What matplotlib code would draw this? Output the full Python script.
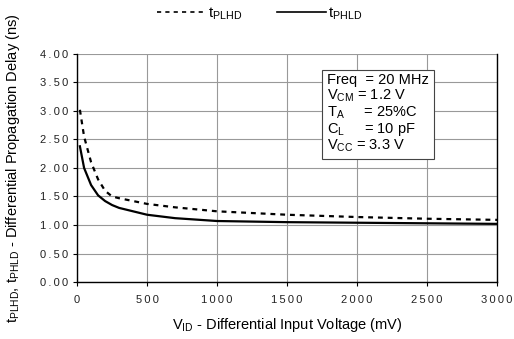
import matplotlib.pyplot as plt
from matplotlib.lines import Line2D

plt.rcParams['font.family'] = ['Liberation Sans', 'DejaVu Sans']
plt.rcParams['mathtext.fontset'] = 'custom'
plt.rcParams['mathtext.rm'] = 'Liberation Sans'

# propagation delay vs differential input voltage
vid = [20, 50, 100, 150, 200, 250, 300, 400, 500, 700, 1000, 1500, 2000, 2500, 3000]
tplhd = [3.02, 2.55, 2.10, 1.80, 1.60, 1.50, 1.47, 1.42, 1.37, 1.31, 1.24, 1.18, 1.14, 1.11, 1.09]
tphld = [2.38, 2.00, 1.70, 1.52, 1.42, 1.35, 1.30, 1.24, 1.18, 1.12, 1.07, 1.05, 1.04, 1.03, 1.02]

xticks = [0, 500, 1000, 1500, 2000, 2500, 3000]
yticks = [0.0, 0.5, 1.0, 1.5, 2.0, 2.5, 3.0, 3.5, 4.0]


def spaced(s):
    # wide letter spacing for the tick numbers
    return '\u2009'.join(s)


fig = plt.figure(figsize=(5.14, 3.39), dpi=100)
ax = fig.add_axes([0.150, 0.168, 0.817, 0.673])

ax.plot(vid, tplhd, color='black', lw=1.6, ls=(0, (2.2, 2.2)))
ax.plot(vid, tphld, color='black', lw=1.6)

ax.set_xlim(0, 3000)
ax.set_ylim(0, 4)
ax.set_xticks(xticks)
ax.set_yticks(yticks)
ax.set_xticklabels([spaced(str(v)) for v in xticks])
ax.set_yticklabels([spaced('%.2f' % v) for v in yticks])
ax.tick_params(labelsize=8, length=3, width=0.8, colors='black', labelcolor='#222222')
ax.tick_params(axis='x', pad=6)
ax.grid(True, color='#999999', lw=0.8)
ax.spines['top'].set_visible(False)
for s in ['left', 'bottom', 'right']:
    ax.spines[s].set_color('black')
    ax.spines[s].set_linewidth(1.0)

ax.set_xlabel(r'V$_{\mathregular{ID}}$ - Differential Input Voltage (mV)', fontsize=10.5, labelpad=8)
ax.set_ylabel(r't$_{\mathregular{PLHD}}$, t$_{\mathregular{PHLD}}$ - Differential Propagation Delay (ns)',
              fontsize=10.5, labelpad=13)

cond = ('Freq  = 20 MHz\n'
        r'V$_{\mathregular{CM}}$ = 1.2 V' '\n'
        r'T$_{\mathregular{A}}$     = 25%C' '\n'
        r'C$_{\mathregular{L}}$     = 10 pF' '\n'
        r'V$_{\mathregular{CC}}$ = 3.3 V')
ax.text(0.595, 0.915, cond, transform=ax.transAxes, fontsize=10.5, va='top', ha='left',
        linespacing=1.0,
        bbox=dict(boxstyle='square,pad=0.35', fc='white', ec='#444444', lw=0.8))

handles = [Line2D([], [], color='black', lw=1.2, ls=(0, (2.5, 2.5))),
           Line2D([], [], color='black', lw=1.2)]
fig.legend(handles, [r't$_{\mathregular{PLHD}}$', r't$_{\mathregular{PHLD}}$'],
           loc='upper center', bbox_to_anchor=(0.505, 1.025), ncol=2, frameon=False,
           fontsize=11, handlelength=3.2, handletextpad=0.1, columnspacing=2.3)

fig.savefig('out.png', dpi=100)
